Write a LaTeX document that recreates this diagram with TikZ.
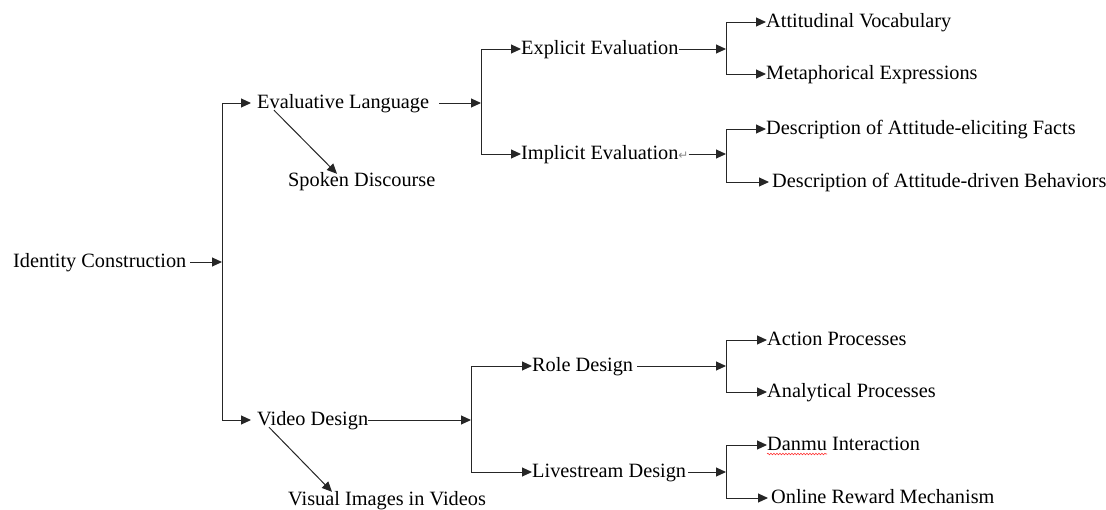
\documentclass[tikz,border=0pt]{standalone}
\usepackage{fontspec}
\setmainfont{Liberation Serif}
\newfontfamily\symfont{DejaVu Sans}
\usetikzlibrary{arrows.meta,calc,decorations.pathmorphing}
\begin{document}
\begin{tikzpicture}[x=1pt,y=-1pt,
  lbl/.style={anchor=west,inner sep=0pt,text height=15pt,text depth=5pt,font=\fontsize{20.3}{24}\selectfont,text=black},
  con/.style={line width=1pt,draw=black!85},
  arr/.style={con,-{Triangle[length=10pt,width=9pt]}}]
\useasboundingbox (0,0) rectangle (1106,509);
% nodes
\node[lbl] (ic) at (13,262) {Identity Construction};
\node[lbl] (el) at (257,103) {Evaluative Language};
\node[lbl] (sd) at (288,181) {Spoken Discourse};
\node[lbl] (ee) at (521,49) {Explicit Evaluation};
\node[lbl] (ie) at (521,154) {Implicit Evaluation{\symfont\fontsize{12}{12}\selectfont\color{black!45}↵}};
\node[lbl] (av) at (766,22) {Attitudinal Vocabulary};
\node[lbl] (me) at (766,74) {Metaphorical Expressions};
\node[lbl] (df) at (766,129) {Description of Attitude-eliciting Facts};
\node[lbl] (db) at (772,182) {Description of Attitude-driven Behaviors};
\node[lbl] (vd) at (257,420) {Video Design};
\node[lbl] (vi) at (288,500) {Visual Images in Videos};
\node[lbl] (rd) at (532,366) {Role Design};
\node[lbl] (ls) at (532,472) {Livestream Design};
\node[lbl] (ap) at (767,340) {Action Processes};
\node[lbl] (an) at (767,392) {Analytical Processes};
\node[lbl] (di) at (767,445) {Danmu Interaction};
\node[lbl] (or) at (771,498) {Online Reward Mechanism};
% junction coordinates
\coordinate (j0) at (222,262);
\coordinate (j1) at (481,103);
\coordinate (j2) at (726,50);
\coordinate (j3) at (726,155);
\coordinate (j4) at (471,420);
\coordinate (j5) at (726,367);
\coordinate (j6) at (726,474);
% level 0
\draw[arr] ($(ic.east)+(4,0)$) -- (ic.east -| j0);
\draw[con] (j0 |- el.west) -- (j0 |- vd.west);
\draw[arr] (j0 |- el.west) -- ($(el.west)+(-6,0)$);
\draw[arr] (j0 |- vd.west) -- ($(vd.west)+(-6,0)$);
% evaluative language
\draw[arr] ($(el.east)+(10,0)$) -- (el.east -| j1);
\draw[arr] ($(el.south west)+(17,-3)$) -- ($(sd.north west)+(49,3)$);
\draw[con] (j1 |- ee.west) -- (j1 |- ie.west);
\draw[arr] (j1 |- ee.west) -- (ee.west);
\draw[arr] (j1 |- ie.west) -- (ie.west);
% explicit
\draw[arr] (ee.east) -- (ee.east -| j2);
\draw[con] (j2 |- av.west) -- (j2 |- me.west);
\draw[arr] (j2 |- av.west) -- (av.west);
\draw[arr] (j2 |- me.west) -- (me.west);
% implicit
\draw[arr] (ie.east) -- (ie.east -| j3);
\draw[con] (j3 |- df.west) -- (j3 |- db.west);
\draw[arr] (j3 |- df.west) -- (df.west);
\draw[arr] (j3 |- db.west) -- ($(db.west)+(-3,0)$);
% video design
\draw[arr] (vd.east) -- (vd.east -| j4);
\draw[arr] ($(vd.south west)+(12,-3)$) -- ($(vi.north west)+(44,2)$);
\draw[con] (j4 |- rd.west) -- (j4 |- ls.west);
\draw[arr] (j4 |- rd.west) -- (rd.west);
\draw[arr] (j4 |- ls.west) -- (ls.west);
% role design
\draw[arr] ($(rd.east)+(4,0)$) -- (rd.east -| j5);
\draw[con] (j5 |- ap.west) -- (j5 |- an.west);
\draw[arr] (j5 |- ap.west) -- (ap.west);
\draw[arr] (j5 |- an.west) -- (an.west);
% livestream design
\draw[arr] ($(ls.east)+(2,0)$) -- (ls.east -| j6);
\draw[con] (j6 |- di.west) -- (j6 |- or.west);
\draw[arr] (j6 |- di.west) -- (di.west);
\draw[arr] (j6 |- or.west) -- ($(or.west)+(-3,0)$);
% spell-check underline
\draw[red!80,line width=0.6pt,decorate,decoration={snake,segment length=3pt,amplitude=0.8pt}] ($(di.base west)+(0,4)$) -- ++(60,0);
\end{tikzpicture}
\end{document}
